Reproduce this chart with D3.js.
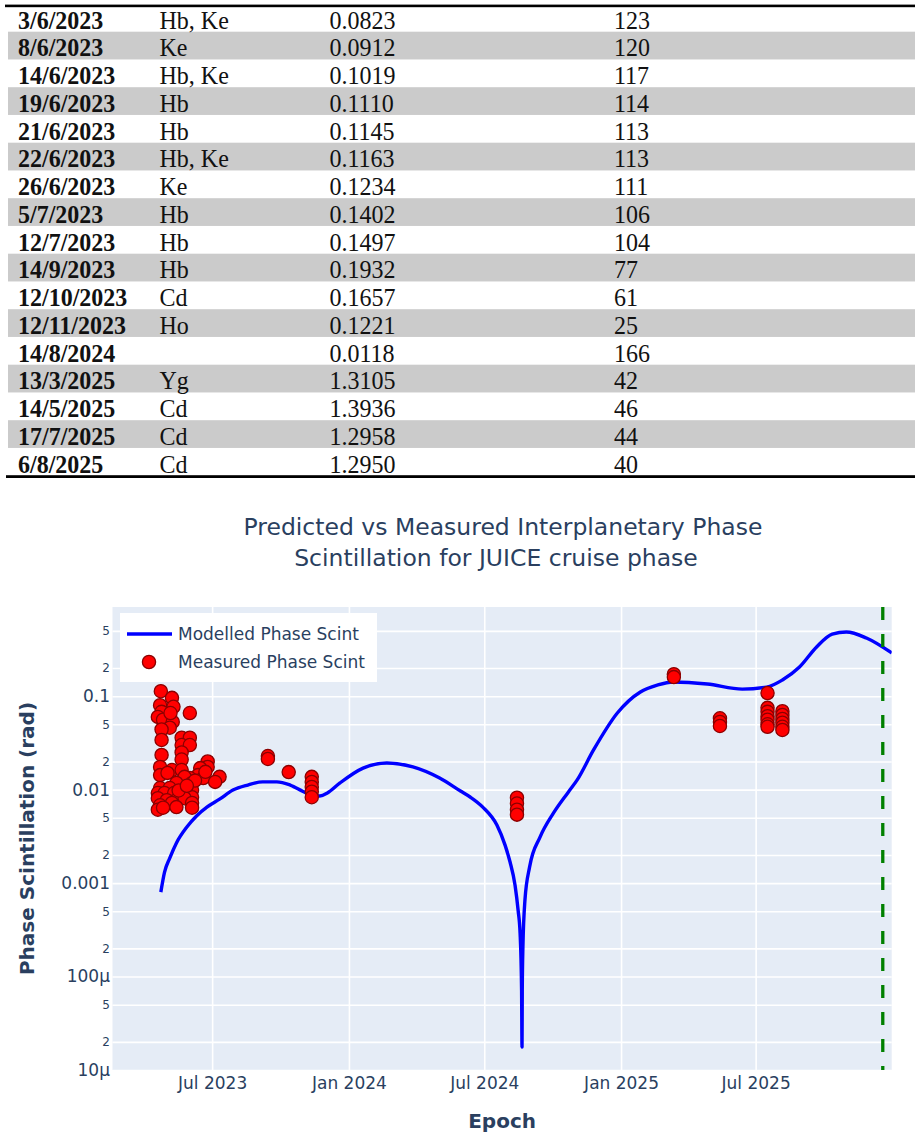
<!DOCTYPE html>
<html>
<head>
<meta charset="utf-8">
<script src="https://cdn.jsdelivr.net/npm/d3@7"></script>
<style>
  html, body { margin: 0; padding: 0; background: #fff; }
  svg { display: block; }
</style>
</head>
<body>
<div id="chart"></div>
<script>
// ---- table rows ----
const tableDates = ["3/6/2023", "8/6/2023", "14/6/2023", "19/6/2023", "21/6/2023", "22/6/2023", "26/6/2023",
  "5/7/2023", "12/7/2023", "14/9/2023", "12/10/2023", "12/11/2023", "14/8/2024", "13/3/2025",
  "14/5/2025", "17/7/2025", "6/8/2025"];
const tableStations = ["Hb, Ke", "Ke", "Hb, Ke", "Hb", "Hb", "Hb, Ke", "Ke", "Hb", "Hb", "Hb", "Cd", "Ho",
  "", "Yg", "Cd", "Cd", "Cd"];
const tableDistances = ["0.0823", "0.0912", "0.1019", "0.1110", "0.1145", "0.1163", "0.1234", "0.1402",
  "0.1497", "0.1932", "0.1657", "0.1221", "0.0118", "1.3105", "1.3936", "1.2958", "1.2950"];
const tableAngles = ["123", "120", "117", "114", "113", "113", "111", "106", "104", "77", "61", "25",
  "166", "42", "46", "44", "40"];

// ---- modelled phase scintillation ----
const modelDates = ["2023-04-23", "2023-04-28", "2023-05-05", "2023-05-14", "2023-05-28", "2023-06-10",
  "2023-06-24", "2023-07-11", "2023-07-29", "2023-08-18", "2023-09-07", "2023-09-26", "2023-10-14",
  "2023-11-05", "2023-11-23", "2023-12-03", "2023-12-20", "2024-01-20", "2024-02-21", "2024-03-27",
  "2024-05-02", "2024-05-30", "2024-06-12", "2024-06-29", "2024-07-18", "2024-07-29",
  "2024-08-04T17:00", "2024-08-11T10:00", "2024-08-15T12:00",
  "2024-08-18T05:00", "2024-08-20T05:00", "2024-08-20T19:00", "2024-08-21T03:00", "2024-08-22T00:00",
  "2024-08-24T18:00", "2024-08-31", "2024-09-14", "2024-10-02", "2024-10-22", "2024-11-03",
  "2024-11-25", "2024-12-27", "2025-01-27", "2025-02-19", "2025-03-12", "2025-04-27", "2025-06-13",
  "2025-07-16", "2025-08-06", "2025-08-29", "2025-09-21", "2025-10-12", "2025-10-31", "2025-11-27",
  "2025-12-31"];
const modelValues = [0.00080, 0.00131, 0.00185, 0.00269, 0.00398, 0.00523,
  0.0065, 0.0079, 0.0099, 0.0112, 0.0121, 0.0121, 0.0112,
  0.0092, 0.00855, 0.0092, 0.0118, 0.0170, 0.0193, 0.0175,
  0.0133, 0.00966, 0.00834, 0.0065, 0.00418, 0.00255,
  0.00168, 0.00095, 0.000515,
  0.00029, 0.000072, 0.0000176, 0.000072, 0.000207,
  0.00066, 0.00149, 0.0031, 0.0056, 0.0094, 0.0127,
  0.0266, 0.0661, 0.111, 0.1315, 0.142, 0.135, 0.119,
  0.125, 0.149, 0.205, 0.336, 0.462, 0.486, 0.419,
  0.290];

// ---- measured phase scintillation ----
const measuredDates = [
  "2023-04-23", "2023-05-08", "2023-05-10", "2023-04-22", "2023-04-24", "2023-04-19", "2023-04-26",
  "2023-05-09", "2023-05-05", "2023-04-24", "2023-04-24", "2023-06-01", "2023-05-06", "2023-05-21",
  "2023-06-01", "2023-05-21", "2023-06-01", "2023-05-21", "2023-04-24", "2023-05-21", "2023-04-22",
  "2023-06-25", "2023-06-25", "2023-06-15", "2023-05-08", "2023-05-21", "2023-04-22", "2023-05-02",
  "2023-06-12", "2023-06-19", "2023-07-11", "2023-07-05", "2023-06-01", "2023-05-25", "2023-05-14",
  "2023-06-04", "2023-04-22", "2023-05-05", "2023-06-04", "2023-04-19", "2023-04-28", "2023-05-11",
  "2023-06-04", "2023-04-19", "2023-05-01", "2023-05-14", "2023-05-25", "2023-06-04", "2023-04-22",
  "2023-05-08", "2023-04-19", "2023-04-26", "2023-05-14", "2023-06-04",
  "2023-06-22", "2023-06-08", "2023-05-17", "2023-05-28",
  "2023-09-14", "2023-09-14", "2023-10-12",
  "2023-11-12", "2023-11-12", "2023-11-12", "2023-11-12", "2023-11-12",
  "2024-08-14", "2024-08-14", "2024-08-14", "2024-08-14",
  "2025-03-13", "2025-03-13",
  "2025-05-14", "2025-05-14", "2025-05-14",
  "2025-07-17", "2025-07-17", "2025-07-17", "2025-07-17", "2025-07-17", "2025-07-17", "2025-07-17",
  "2025-08-06", "2025-08-06", "2025-08-06", "2025-08-06", "2025-08-06", "2025-08-06"];
const measuredValues = [
  0.113, 0.096, 0.077, 0.080, 0.068, 0.060, 0.056,
  0.053, 0.046, 0.044, 0.034, 0.066, 0.066, 0.036,
  0.036, 0.030, 0.030, 0.025, 0.0235, 0.021, 0.0175,
  0.020, 0.0175, 0.017, 0.0162, 0.0162, 0.0143, 0.0151,
  0.0143, 0.0133, 0.0137, 0.0121, 0.0133, 0.0137, 0.0118,
  0.0118, 0.0104, 0.0104, 0.0099, 0.0092, 0.0092, 0.0092,
  0.0083, 0.0081, 0.0077, 0.0077, 0.0081, 0.0072, 0.0068,
  0.0072, 0.0061, 0.0064, 0.0065, 0.0064,
  0.0155, 0.0125, 0.0098, 0.0110,
  0.0229, 0.0213, 0.0154,
  0.0137, 0.0121, 0.0107, 0.0095, 0.0083,
  0.0082, 0.0071, 0.0061, 0.0054,
  0.172, 0.160,
  0.058, 0.053, 0.048,
  0.108, 0.075, 0.068, 0.061, 0.056, 0.050, 0.047,
  0.069, 0.063, 0.057, 0.052, 0.047, 0.0435];

// ---- axes ----
const xTickDates = ["2023-07-01", "2024-01-01", "2024-07-01", "2025-01-01", "2025-07-01"];
const yTickValues = [1e-5, 2e-5, 5e-5, 1e-4, 2e-4, 5e-4, 1e-3, 2e-3, 5e-3, 0.01, 0.02, 0.05, 0.1, 0.2, 0.5];
const yTickLabels = ["10µ", "2", "5", "100µ", "2", "5", "0.001", "2", "5", "0.01", "2", "5", "0.1", "2", "5"];
const cruiseEnd = "2025-12-19";
const xDomain = ["2023-02-17", "2025-12-31"];
const yDomain = [1e-5, 0.9];

const parseTime = d3.isoParse;
const width = 921, height = 1142;
const ink = "#2a3f5f";

const svg = d3.select("#chart").append("svg")
    .attr("width", width)
    .attr("height", height);

svg.append("rect").attr("width", width).attr("height", height).attr("fill", "#fff");

// ================= TABLE =================
const rowScale = d3.scaleBand()
    .domain(d3.range(tableDates.length))
    .range([3.95, 475.7]);

const table = svg.append("g").attr("class", "table");

table.selectAll("rect.band")
    .data(d3.range(tableDates.length).filter(i => i % 2 === 1))
    .enter()
    .append("rect")
    .attr("class", "band")
    .attr("x", 8)
    .attr("y", i => rowScale(i))
    .attr("width", 907)
    .attr("height", rowScale.bandwidth())
    .attr("fill", "#cbcbcb");

table.append("rect").attr("x", 5).attr("y", 4.6).attr("width", 910).attr("height", 2.6).attr("fill", "#000");
table.append("rect").attr("x", 6).attr("y", 475.2).attr("width", 909).attr("height", 2.8).attr("fill", "#000");

const columns = [
    { values: tableDates, x: 18, weight: "bold" },
    { values: tableStations, x: 159.5, weight: "normal" },
    { values: tableDistances, x: 329.5, weight: "normal" },
    { values: tableAngles, x: 614, weight: "normal" }
];

// scanned table text is slightly taller than wide
columns.forEach(col => {
    table.selectAll(null)
        .data(col.values)
        .enter()
        .append("text")
        .attr("transform", (d, i) => `translate(${col.x},${rowScale(i) + 24.6}) scale(1,1.04)`)
        .attr("font-family", "'Liberation Serif', 'Times New Roman', serif")
        .attr("font-size", "24px")
        .attr("font-weight", col.weight)
        .attr("fill", "#111")
        .text(d => d);
});

// ================= CHART =================
const plot = { left: 112.5, right: 891.7, top: 607, bottom: 1070 };

const x = d3.scaleTime()
    .domain(xDomain.map(parseTime))
    .range([plot.left, plot.right]);

const y = d3.scaleLog()
    .domain(yDomain)
    .range([plot.bottom, plot.top]);

// title
const title = svg.append("text")
    .attr("text-anchor", "middle")
    .attr("font-family", "'DejaVu Sans', Verdana, sans-serif")
    .attr("font-size", "23.5px")
    .attr("fill", ink);
title.append("tspan").attr("x", 503).attr("y", 535).text("Predicted vs Measured Interplanetary Phase");
title.append("tspan").attr("x", 496).attr("y", 566).text("Scintillation for JUICE cruise phase");

// plot background
svg.append("rect")
    .attr("x", plot.left)
    .attr("y", plot.top)
    .attr("width", plot.right - plot.left)
    .attr("height", plot.bottom - plot.top)
    .attr("fill", "#e5ecf6");

svg.append("defs").append("clipPath")
    .attr("id", "plot-clip")
    .append("rect")
    .attr("x", plot.left)
    .attr("y", plot.top)
    .attr("width", plot.right - plot.left)
    .attr("height", plot.bottom - plot.top);

// grid lines
svg.append("g")
    .attr("transform", `translate(0,${plot.bottom})`)
    .call(d3.axisBottom(x).tickValues(xTickDates.map(parseTime)).tickSize(-(plot.bottom - plot.top)).tickFormat(""))
    .call(g => g.select(".domain").remove())
    .call(g => g.selectAll("line").attr("stroke", "#fff").attr("stroke-width", 1.6));

svg.append("g")
    .attr("transform", `translate(${plot.left},0)`)
    .call(d3.axisLeft(y).tickValues(yTickValues).tickSize(-(plot.right - plot.left)).tickFormat(""))
    .call(g => g.select(".domain").remove())
    .call(g => g.selectAll("line").attr("stroke", "#fff").attr("stroke-width", 1.6));

// x tick labels
svg.append("g")
    .attr("transform", `translate(0,${plot.bottom})`)
    .call(d3.axisBottom(x).tickValues(xTickDates.map(parseTime)).tickSize(0).tickPadding(7)
        .tickFormat(d3.utcFormat("%b %Y")))
    .call(g => g.select(".domain").remove())
    .call(g => g.selectAll("text")
        .attr("font-family", "'DejaVu Sans', Verdana, sans-serif")
        .attr("font-size", "17px")
        .attr("fill", ink));

// y tick labels (2 and 5 are the small minor labels)
svg.append("g")
    .attr("transform", `translate(${plot.left - 2.5},0)`)
    .call(d3.axisLeft(y).tickValues(yTickValues).tickSize(0).tickPadding(0)
        .tickFormat((d, i) => yTickLabels[i]))
    .call(g => g.select(".domain").remove())
    .call(g => g.selectAll("text")
        .attr("font-family", "'DejaVu Sans', Verdana, sans-serif")
        .attr("font-size", (d, i) => (yTickLabels[i] === "2" || yTickLabels[i] === "5") ? "12px" : "17px")
        .attr("fill", ink));

// axis titles
svg.append("text")
    .attr("x", (plot.left + plot.right) / 2)
    .attr("y", 1128)
    .attr("text-anchor", "middle")
    .attr("font-family", "'DejaVu Sans', Verdana, sans-serif")
    .attr("font-size", "20px")
    .attr("font-weight", "bold")
    .attr("fill", ink)
    .text("Epoch");

svg.append("text")
    .attr("transform", `translate(34,${(plot.top + plot.bottom) / 2}) rotate(-90)`)
    .attr("text-anchor", "middle")
    .attr("font-family", "'DejaVu Sans', Verdana, sans-serif")
    .attr("font-size", "20px")
    .attr("font-weight", "bold")
    .attr("fill", ink)
    .text("Phase Scintillation (rad)");

// traces
const marks = svg.append("g").attr("clip-path", "url(#plot-clip)");

const modelData = modelDates.map((d, i) => ({ date: parseTime(d), value: modelValues[i] }));
const measuredData = measuredDates.map((d, i) => ({ date: parseTime(d), value: measuredValues[i] }));

const line = d3.line()
    .x(d => x(d.date))
    .y(d => y(d.value))
    .curve(d3.curveMonotoneX);

marks.append("path")
    .datum(modelData)
    .attr("d", line)
    .attr("fill", "none")
    .attr("stroke", "#0000ff")
    .attr("stroke-width", 3.4)
    .attr("stroke-linejoin", "round");

marks.selectAll("circle")
    .data(measuredData)
    .enter()
    .append("circle")
    .attr("cx", d => x(d.date))
    .attr("cy", d => y(d.value))
    .attr("r", 6.6)
    .attr("fill", "#ff0000")
    .attr("stroke", "#8b0000")
    .attr("stroke-width", 1.3);

// end of cruise marker
svg.append("line")
    .attr("x1", x(parseTime(cruiseEnd)))
    .attr("x2", x(parseTime(cruiseEnd)))
    .attr("y1", plot.top)
    .attr("y2", plot.bottom)
    .attr("stroke", "#008000")
    .attr("stroke-width", 3.3)
    .attr("stroke-dasharray", "13,14");

// legend
const legend = svg.append("g").attr("transform", "translate(120,613)");
legend.append("rect").attr("width", 257).attr("height", 69).attr("fill", "#fff");
legend.append("line")
    .attr("x1", 7).attr("x2", 52).attr("y1", 21).attr("y2", 21)
    .attr("stroke", "#0000ff").attr("stroke-width", 3.4);
legend.append("circle")
    .attr("cx", 29).attr("cy", 49).attr("r", 6.6)
    .attr("fill", "#ff0000").attr("stroke", "#8b0000").attr("stroke-width", 1.3);
legend.selectAll("text.label")
    .data(["Modelled Phase Scint", "Measured Phase Scint"])
    .enter()
    .append("text")
    .attr("class", "label")
    .attr("x", 58)
    .attr("y", (d, i) => 27 + i * 28)
    .attr("font-family", "'DejaVu Sans', Verdana, sans-serif")
    .attr("font-size", "17px")
    .attr("fill", ink)
    .text(d => d);
</script>
</body>
</html>
